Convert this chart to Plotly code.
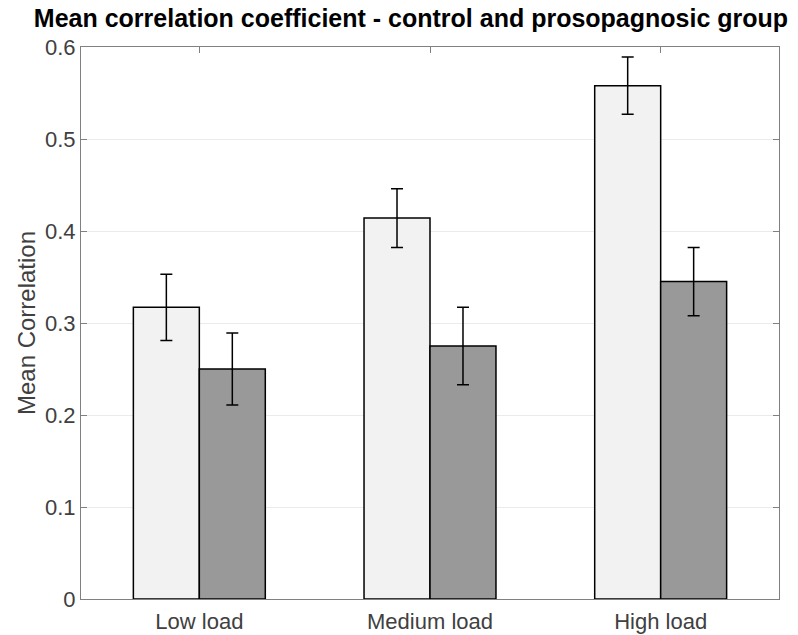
import plotly.graph_objects as go

categories = ["Low load", "Medium load", "High load"]
control = [0.317, 0.414, 0.558]
control_err_plus = [0.036, 0.032, 0.031]
control_err_minus = [0.036, 0.032, 0.031]
proso = [0.250, 0.275, 0.345]
proso_err_plus = [0.039, 0.042, 0.037]
proso_err_minus = [0.039, 0.042, 0.037]
y_ticks = [0, 0.1, 0.2, 0.3, 0.4, 0.5, 0.6]
y_tick_labels = ["0", "0.1", "0.2", "0.3", "0.4", "0.5", "0.6"]

xpos = [1, 2, 3]

fig = go.Figure()
fig.add_trace(go.Bar(
    x=xpos, y=control, name="Control",
    marker=dict(color="#f2f2f2", line=dict(color="black", width=1.5)),
    error_y=dict(type="data", array=control_err_plus, arrayminus=control_err_minus,
                 color="black", thickness=1.5, width=6),
))
fig.add_trace(go.Bar(
    x=xpos, y=proso, name="Prosopagnosic",
    marker=dict(color="#999999", line=dict(color="black", width=1.5)),
    error_y=dict(type="data", array=proso_err_plus, arrayminus=proso_err_minus,
                 color="black", thickness=1.5, width=6),
))

fig.update_layout(
    width=798, height=635,
    margin=dict(l=81, r=19, t=47, b=36),
    paper_bgcolor="white", plot_bgcolor="white",
    barmode="group", bargap=0.428, bargroupgap=0,
    showlegend=False,
    font=dict(family="Liberation Sans, Arial, sans-serif", color="#404040"),
    title=dict(text="<b>Mean correlation coefficient - control and prosopagnosic group</b>",
               x=0.515, xanchor="center", y=0.972, yanchor="middle",
               font=dict(size=25, color="black", family="Liberation Sans, Arial, sans-serif")),
)
fig.update_xaxes(
    range=[0.487, 3.513], tickvals=xpos, ticktext=categories,
    showline=True, linecolor="#808080", linewidth=1, mirror="ticks",
    ticks="inside", ticklen=6, tickcolor="#808080",
    tickfont=dict(size=22, color="#404040"), ticklabelstandoff=3,
    showgrid=False, zeroline=False, layer="below traces", automargin=False,
)
fig.update_yaxes(
    range=[0, 0.6], tickvals=y_ticks, ticktext=y_tick_labels,
    showline=True, linecolor="#808080", linewidth=1, mirror="ticks",
    ticks="inside", ticklen=6, tickcolor="#808080",
    tickfont=dict(size=22, color="#404040"),
    showgrid=True, gridcolor="#ebebeb", gridwidth=1, zeroline=False,
    layer="below traces", automargin=False,
    title=dict(text="Mean Correlation", font=dict(size=24, color="#404040"), standoff=2),
)

fig.write_html("out.html")
